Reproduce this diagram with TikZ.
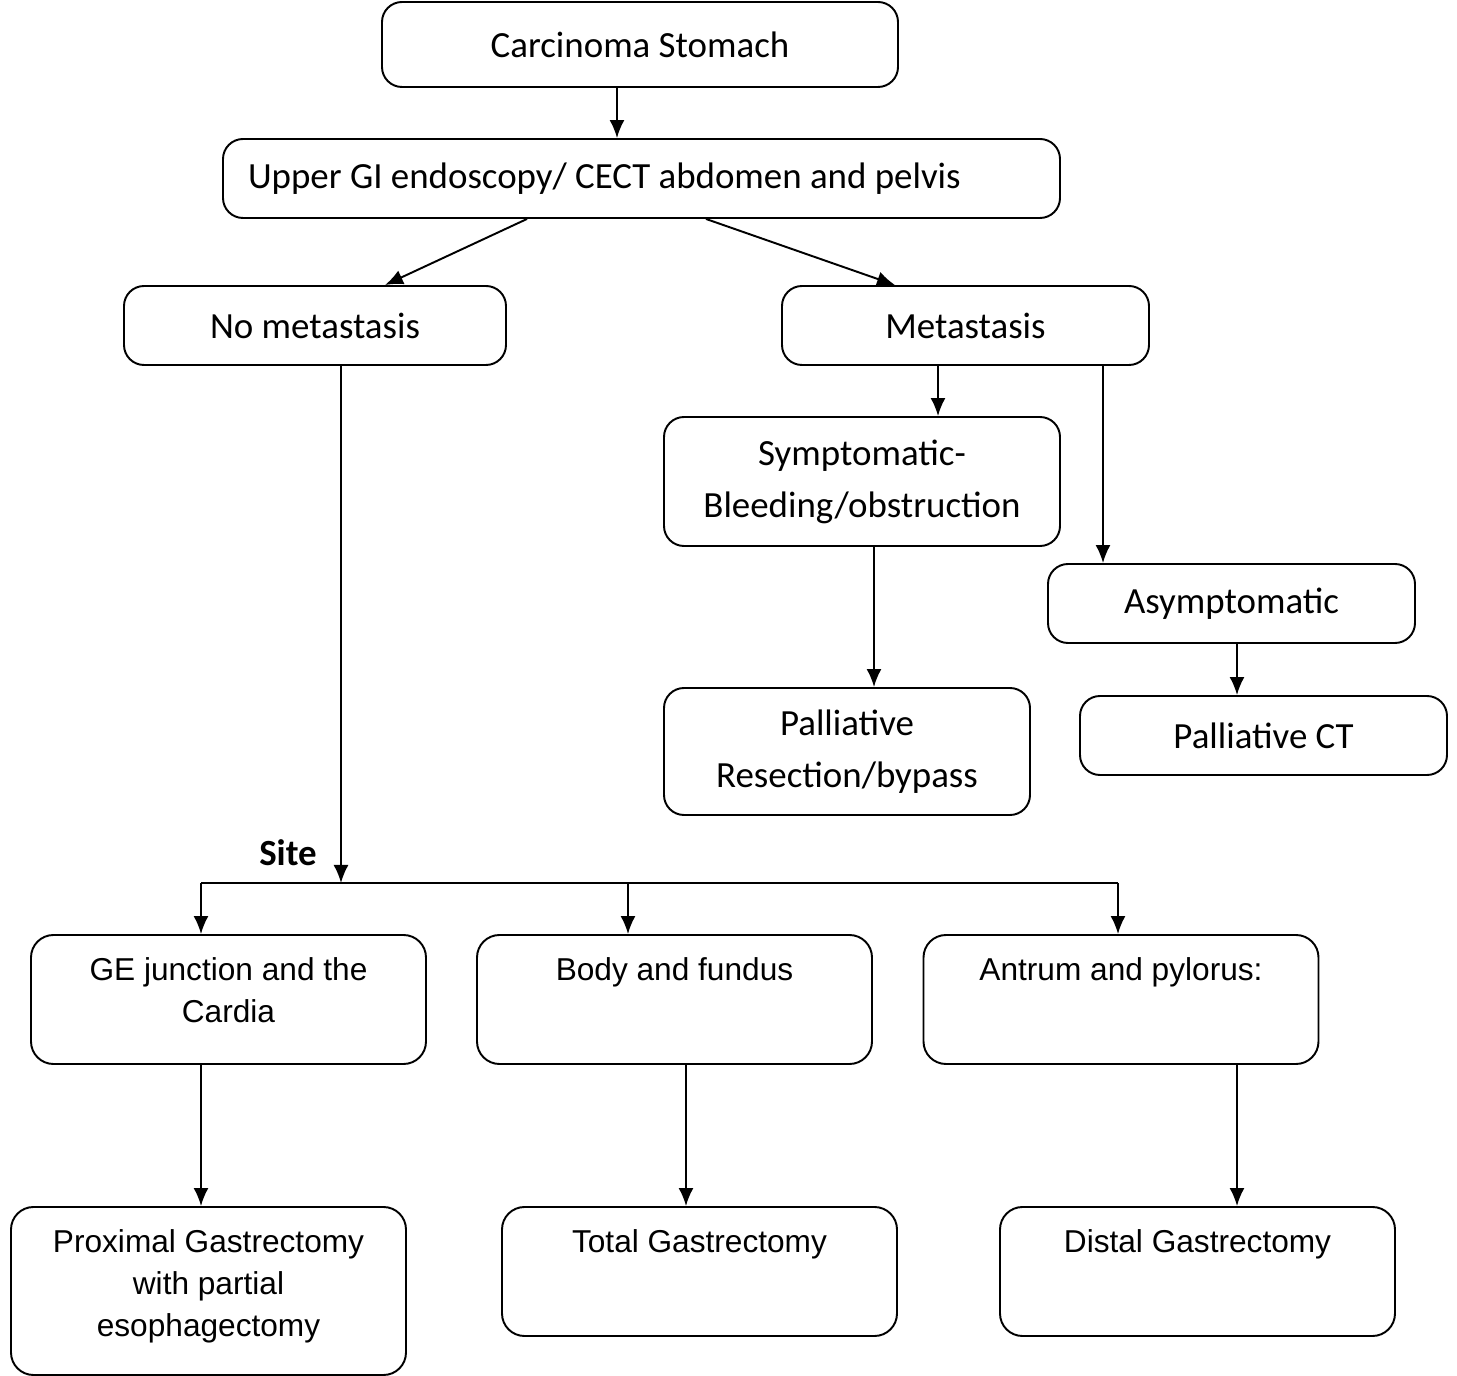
\documentclass[tikz,border=0pt]{standalone}
\usepackage{fontspec}
\newfontfamily\carlito{Carlito}
\newfontfamily\arial{Liberation Sans}
\usetikzlibrary{arrows.meta}
\tikzset{
  box/.style={draw, line width=1.1pt, rounded corners=0.4cm, align=center, inner sep=0.3cm, font=\carlito\fontsize{21}{29.5}\selectfont},
  lowbox/.style={draw, line width=1.1pt, rounded corners=0.45cm, inner xsep=0.3cm, inner ysep=0.45cm, font=\arial\fontsize{18}{24}\selectfont},
  arr/.style={line width=1.1pt, -{Latex[length=0.36cm,width=0.3cm]}},
}
\newcommand{\toptext}[2]{\parbox[c][#1][t]{7.3cm}{\centering #2}}
\begin{document}
\begin{tikzpicture}
    \useasboundingbox (0,0) rectangle (29.14,-27.52);
    % upper part
    \node[box, minimum width=10.32cm, minimum height=1.7cm] (carc) at (12.8,-0.89) {Carcinoma Stomach};
    \node[box, align=flush left, text width=15.74cm, inner xsep=0.5cm, minimum height=1.58cm] (upper) at (12.83,-3.57) {Upper GI endoscopy/ CECT abdomen and pelvis};
    \node[box, minimum width=7.64cm, minimum height=1.58cm] (nomet) at (6.3,-6.51) {No metastasis};
    \node[box, minimum width=7.34cm, minimum height=1.58cm] (met) at (19.31,-6.51) {Metastasis};
    \node[box, minimum width=7.92cm, minimum height=2.58cm] (sympt) at (17.24,-9.63) {Symptomatic-\\Bleeding/obstruction};
    \node[box, minimum width=7.34cm, minimum height=1.58cm] (asympt) at (24.63,-12.07) {Asymptomatic};
    \node[box, minimum width=7.32cm, minimum height=2.54cm] (palres) at (16.94,-15.03) {Palliative\\Resection/bypass};
    \node[box, minimum width=7.34cm, minimum height=1.58cm] (palct) at (25.27,-14.71) {Palliative CT};

    \draw[arr] ([xshift=-0.46cm]carc.south) -- ([xshift=-0.46cm]carc.south |- upper.north);
    \draw[arr] ([xshift=-2.29cm]upper.south) -- ([xshift=1.4cm]nomet.north);
    \draw[arr] ([xshift=1.29cm]upper.south) -- ([xshift=-1.41cm]met.north);
    \draw[arr] ([xshift=-0.55cm]met.south) -- ([xshift=-0.55cm]met.south |- sympt.north);
    \draw[arr] ([xshift=2.75cm]met.south) -- ([xshift=2.75cm]met.south |- asympt.north);
    \draw[arr] ([xshift=0.24cm]sympt.south) -- ([xshift=0.24cm]sympt.south |- palres.north);
    \draw[arr] ([xshift=0.11cm]asympt.south) -- ([xshift=0.11cm]asympt.south |- palct.north);

    % site split
    \node[font=\carlito\bfseries\fontsize{21}{25}\selectfont] (sitelbl) at (5.76,-17.06) {Site};
    \coordinate (fork) at (6.82,-17.66);
    \coordinate (forkL) at (4.02,-17.66);
    \coordinate (forkM) at (12.56,-17.66);
    \coordinate (forkR) at (22.36,-17.66);

    \node[lowbox] (ge) at (4.57,-19.99) {\toptext{1.68cm}{GE junction and the\\Cardia}};
    \node[lowbox] (body) at (13.49,-19.99) {\toptext{1.68cm}{Body and fundus}};
    \node[lowbox] (antrum) at (22.42,-19.99) {\toptext{1.68cm}{Antrum and pylorus:}};
    \node[lowbox] (prox) at (4.17,-25.82) {\toptext{2.46cm}{Proximal Gastrectomy\\with partial\\esophagectomy}};
    \node[lowbox] (total) at (13.99,-25.43) {\toptext{1.68cm}{Total Gastrectomy}};
    \node[lowbox] (distal) at (23.95,-25.43) {\toptext{1.68cm}{Distal Gastrectomy}};

    \draw[arr] ([xshift=0.52cm]nomet.south) -- (fork);
    \draw[line width=1.1pt] (forkL) -- (forkR);
    \draw[arr] (forkL) -- (forkL |- ge.north);
    \draw[arr] (forkM) -- (forkM |- body.north);
    \draw[arr] (forkR) -- (forkR |- antrum.north);

    \draw[arr] ([xshift=-0.55cm]ge.south) -- ([xshift=-0.55cm]ge.south |- prox.north);
    \draw[arr] ([xshift=0.23cm]body.south) -- ([xshift=0.23cm]body.south |- total.north);
    \draw[arr] ([xshift=2.32cm]antrum.south) -- ([xshift=2.32cm]antrum.south |- distal.north);
\end{tikzpicture}
\end{document}
